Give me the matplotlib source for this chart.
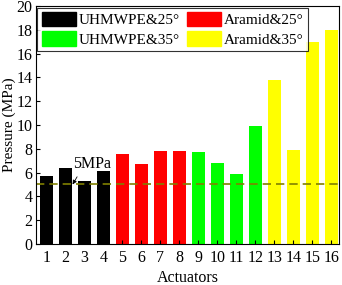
import matplotlib
matplotlib.use("Agg")
import matplotlib.pyplot as plt
from matplotlib.patches import Patch

plt.rcParams["font.family"] = ["Liberation Serif", "DejaVu Serif"]
plt.rcParams["font.size"] = 11

# data
actuators = list(range(1, 17))
pressure = [5.75, 6.35, 5.3, 6.1, 7.6, 6.7, 7.8, 7.85,
            7.75, 6.8, 5.9, 9.9, 13.8, 7.9, 17.0, 17.95]
groups = ["UHMWPE&25°", "Aramid&25°", "UHMWPE&35°", "Aramid&35°"]
group_colors = ["black", "#ff0000", "#00ff00", "#ffff00"]
threshold = 5

colors = [group_colors[(a - 1) // 4] for a in actuators]

fig = plt.figure(figsize=(3.42, 2.85), dpi=100)
ax = fig.add_axes([0.105, 0.144, 0.886, 0.835])

ax.bar(actuators, pressure, width=0.7, color=colors)
ax.axhline(threshold, color="#808000", ls=(0, (5, 3)), lw=1.2)
ax.annotate("5MPa", xy=(2.38, threshold), xytext=(2.38, 6.75),
            fontsize=11.5, ha="left", va="center",
            arrowprops=dict(arrowstyle="-|>", color="black", lw=0.6,
                            mutation_scale=6, shrinkA=2, shrinkB=0,
                            relpos=(0.2, 0.0)))

ax.set_xlim(0.45, 16.4)
ax.set_ylim(0, 20)
ax.set_xticks(actuators)
ax.set_yticks(range(0, 21, 2))
ax.tick_params(direction="in", length=3, labelsize=11.5, pad=4)
ax.tick_params(axis="y", pad=2.5)
ax.set_xlabel("Actuators", fontsize=11.5, labelpad=3)
ax.set_ylabel("Pressure (MPa)", fontsize=11)
ax.yaxis.set_label_coords(-0.066, 0.5)

handles = [Patch(color=c, label=g) for g, c in zip(groups, group_colors)]
order = [0, 2, 1, 3]
leg = ax.legend([handles[i] for i in order], [groups[i] for i in order],
                ncol=2, loc="upper left", bbox_to_anchor=(0, 1),
                fontsize=11, frameon=True, fancybox=False,
                edgecolor="black", handlelength=2.2, handleheight=1.05,
                columnspacing=0.5, handletextpad=0.2, borderpad=0.3,
                labelspacing=0.26, borderaxespad=0.1)
leg.get_frame().set_linewidth(0.8)

fig.savefig("out.png", dpi=100)
